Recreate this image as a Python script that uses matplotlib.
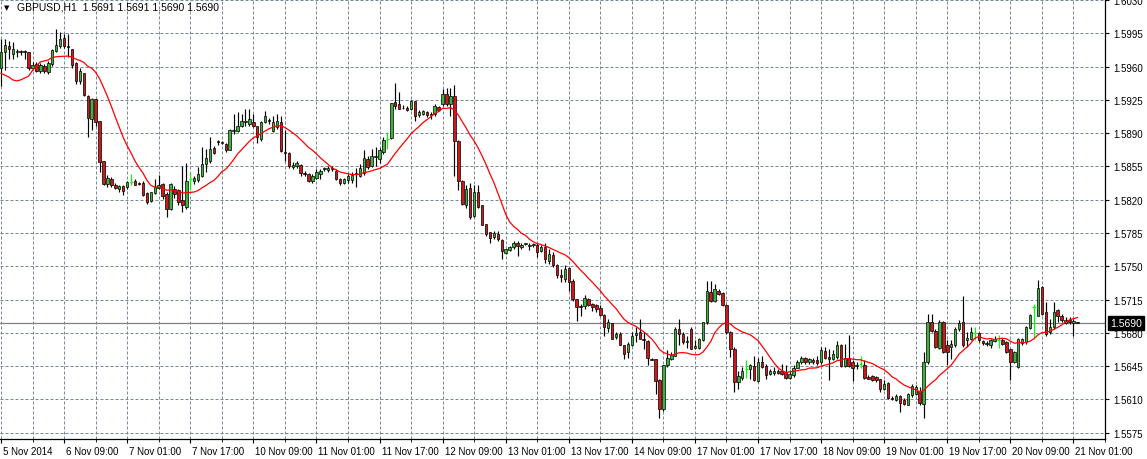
import numpy as np
import pandas as pd
import matplotlib
matplotlib.use("Agg")
import matplotlib.pyplot as plt
import matplotlib.transforms as mtransforms

plt.rcParams['font.family'] = ['Liberation Sans', 'DejaVu Sans']

symbol = "GBPUSD,H1"

# hourly OHLC, 5 Nov 2014 17:00 -> 21 Nov 2014 02:00 (274 bars)
opens = [
    1.5959, 1.5975, 1.5982, 1.5973, 1.5975, 1.5976, 1.5976, 1.5975, 1.5959, 1.5963,
    1.5955, 1.5961, 1.5954, 1.5963, 1.5976, 1.5982, 1.5990, 1.5982, 1.5979, 1.5964,
    1.5945, 1.5953, 1.5929, 1.5905, 1.5926, 1.5903, 1.5861, 1.5837, 1.5842, 1.5836,
    1.5831, 1.5834, 1.5833, 1.5839, 1.5840, 1.5838, 1.5838, 1.5827, 1.5819, 1.5827,
    1.5832, 1.5837, 1.5826, 1.5810, 1.5831, 1.5830, 1.5820, 1.5812, 1.5842, 1.5840,
    1.5841, 1.5845, 1.5858, 1.5861, 1.5874, 1.5882, 1.5880, 1.5879, 1.5872, 1.5892,
    1.5892, 1.5898, 1.5902, 1.5900, 1.5902, 1.5898, 1.5884, 1.5902, 1.5904, 1.5892,
    1.5896, 1.5902, 1.5870, 1.5869, 1.5854, 1.5855, 1.5857, 1.5848, 1.5847, 1.5840,
    1.5843, 1.5847, 1.5852, 1.5851, 1.5853, 1.5850, 1.5842, 1.5838, 1.5841, 1.5841,
    1.5847, 1.5845, 1.5848, 1.5863, 1.5855, 1.5865, 1.5863, 1.5870, 1.5884, 1.5885,
    1.5923, 1.5921, 1.5917, 1.5917, 1.5915, 1.5924, 1.5909, 1.5910, 1.5912, 1.5909,
    1.5910, 1.5918, 1.5921, 1.5931, 1.5921, 1.5929, 1.5882, 1.5840, 1.5814, 1.5832,
    1.5803, 1.5828, 1.5814, 1.5795, 1.5786, 1.5781, 1.5784, 1.5778, 1.5764, 1.5767,
    1.5770, 1.5775, 1.5770, 1.5773, 1.5771, 1.5772, 1.5772, 1.5766, 1.5770, 1.5756,
    1.5762, 1.5751, 1.5741, 1.5737, 1.5748, 1.5735, 1.5716, 1.5708, 1.5708, 1.5716,
    1.5710, 1.5709, 1.5706, 1.5699, 1.5685, 1.5690, 1.5676, 1.5679, 1.5667, 1.5660,
    1.5667, 1.5678, 1.5681, 1.5674, 1.5671, 1.5653, 1.5653, 1.5630, 1.5600, 1.5646,
    1.5653, 1.5656, 1.5684, 1.5679, 1.5670, 1.5684, 1.5664, 1.5664, 1.5672, 1.5691,
    1.5723, 1.5714, 1.5724, 1.5722, 1.5709, 1.5681, 1.5663, 1.5628, 1.5633, 1.5642,
    1.5642, 1.5645, 1.5629, 1.5649, 1.5645, 1.5637, 1.5638, 1.5640, 1.5640, 1.5639,
    1.5633, 1.5636, 1.5643, 1.5649, 1.5654, 1.5649, 1.5652, 1.5651, 1.5649, 1.5661,
    1.5655, 1.5653, 1.5655, 1.5667, 1.5645, 1.5654, 1.5649, 1.5645, 1.5647, 1.5646,
    1.5634, 1.5635, 1.5634, 1.5631, 1.5621, 1.5627, 1.5612, 1.5609, 1.5614, 1.5609,
    1.5604, 1.5615, 1.5616, 1.5619, 1.5605, 1.5649, 1.5691, 1.5682, 1.5664, 1.5691,
    1.5667, 1.5665, 1.5667, 1.5684, 1.5691, 1.5673, 1.5674, 1.5680, 1.5680, 1.5671,
    1.5669, 1.5667, 1.5671, 1.5673, 1.5672, 1.5670, 1.5663, 1.5649, 1.5644, 1.5669,
    1.5670, 1.5685, 1.5707, 1.5698, 1.5728, 1.5702, 1.5681, 1.5686, 1.5704, 1.5698,
    1.5690, 1.5694, 1.5690, 1.5691,
]
highs = [
    1.5989, 1.5989, 1.5987, 1.5986, 1.5979, 1.5977, 1.5977, 1.5975, 1.5965, 1.5965,
    1.5964, 1.5963, 1.5966, 1.5979, 1.6000, 1.5996, 1.5994, 1.5994, 1.5979, 1.5965,
    1.5959, 1.5953, 1.5930, 1.5927, 1.5926, 1.5903, 1.5861, 1.5846, 1.5844, 1.5838,
    1.5836, 1.5836, 1.5840, 1.5847, 1.5842, 1.5839, 1.5840, 1.5828, 1.5828, 1.5842,
    1.5846, 1.5838, 1.5828, 1.5838, 1.5834, 1.5831, 1.5855, 1.5859, 1.5849, 1.5845,
    1.5854, 1.5875, 1.5873, 1.5886, 1.5877, 1.5883, 1.5882, 1.5880, 1.5894, 1.5910,
    1.5912, 1.5910, 1.5915, 1.5915, 1.5910, 1.5898, 1.5903, 1.5913, 1.5906, 1.5908,
    1.5910, 1.5908, 1.5893, 1.5870, 1.5860, 1.5861, 1.5858, 1.5850, 1.5848, 1.5847,
    1.5852, 1.5852, 1.5854, 1.5855, 1.5856, 1.5852, 1.5843, 1.5843, 1.5847, 1.5849,
    1.5853, 1.5858, 1.5872, 1.5866, 1.5873, 1.5875, 1.5874, 1.5886, 1.5891, 1.5922,
    1.5943, 1.5933, 1.5920, 1.5919, 1.5925, 1.5924, 1.5914, 1.5914, 1.5913, 1.5912,
    1.5921, 1.5919, 1.5936, 1.5938, 1.5938, 1.5941, 1.5883, 1.5841, 1.5836, 1.5838,
    1.5836, 1.5835, 1.5814, 1.5795, 1.5786, 1.5787, 1.5787, 1.5779, 1.5768, 1.5771,
    1.5777, 1.5777, 1.5775, 1.5775, 1.5774, 1.5774, 1.5775, 1.5772, 1.5775, 1.5768,
    1.5765, 1.5752, 1.5747, 1.5751, 1.5749, 1.5737, 1.5716, 1.5710, 1.5720, 1.5717,
    1.5711, 1.5710, 1.5709, 1.5700, 1.5695, 1.5690, 1.5681, 1.5681, 1.5667, 1.5670,
    1.5681, 1.5686, 1.5695, 1.5681, 1.5672, 1.5654, 1.5653, 1.5631, 1.5646, 1.5662,
    1.5660, 1.5686, 1.5695, 1.5681, 1.5677, 1.5686, 1.5672, 1.5675, 1.5691, 1.5735,
    1.5735, 1.5731, 1.5726, 1.5723, 1.5710, 1.5682, 1.5665, 1.5640, 1.5644, 1.5651,
    1.5647, 1.5656, 1.5654, 1.5656, 1.5647, 1.5642, 1.5644, 1.5642, 1.5647, 1.5646,
    1.5641, 1.5646, 1.5651, 1.5656, 1.5655, 1.5654, 1.5654, 1.5656, 1.5665, 1.5665,
    1.5663, 1.5662, 1.5671, 1.5668, 1.5668, 1.5678, 1.5651, 1.5649, 1.5656, 1.5651,
    1.5636, 1.5636, 1.5635, 1.5632, 1.5630, 1.5628, 1.5614, 1.5616, 1.5615, 1.5611,
    1.5617, 1.5626, 1.5625, 1.5623, 1.5660, 1.5700, 1.5700, 1.5684, 1.5694, 1.5693,
    1.5672, 1.5673, 1.5686, 1.5694, 1.5719, 1.5681, 1.5686, 1.5686, 1.5681, 1.5672,
    1.5671, 1.5674, 1.5677, 1.5678, 1.5675, 1.5671, 1.5663, 1.5661, 1.5675, 1.5675,
    1.5687, 1.5700, 1.5710, 1.5736, 1.5729, 1.5712, 1.5695, 1.5712, 1.5705, 1.5700,
    1.5697, 1.5697, 1.5695, 1.5691,
]
lows = [
    1.5940, 1.5956, 1.5968, 1.5968, 1.5970, 1.5972, 1.5968, 1.5956, 1.5956, 1.5954,
    1.5953, 1.5953, 1.5952, 1.5961, 1.5975, 1.5980, 1.5980, 1.5970, 1.5959, 1.5942,
    1.5942, 1.5929, 1.5886, 1.5893, 1.5898, 1.5849, 1.5836, 1.5833, 1.5833, 1.5831,
    1.5828, 1.5825, 1.5831, 1.5836, 1.5835, 1.5836, 1.5824, 1.5816, 1.5818, 1.5826,
    1.5831, 1.5821, 1.5802, 1.5809, 1.5822, 1.5814, 1.5807, 1.5810, 1.5830, 1.5837,
    1.5839, 1.5844, 1.5849, 1.5859, 1.5868, 1.5878, 1.5879, 1.5870, 1.5872, 1.5889,
    1.5891, 1.5896, 1.5898, 1.5898, 1.5896, 1.5880, 1.5882, 1.5901, 1.5900, 1.5891,
    1.5894, 1.5870, 1.5861, 1.5853, 1.5852, 1.5853, 1.5845, 1.5845, 1.5839, 1.5838,
    1.5842, 1.5842, 1.5850, 1.5849, 1.5850, 1.5841, 1.5836, 1.5837, 1.5838, 1.5838,
    1.5833, 1.5844, 1.5846, 1.5852, 1.5854, 1.5856, 1.5859, 1.5868, 1.5873, 1.5884,
    1.5915, 1.5915, 1.5915, 1.5913, 1.5914, 1.5903, 1.5907, 1.5909, 1.5907, 1.5905,
    1.5908, 1.5913, 1.5919, 1.5919, 1.5908, 1.5845, 1.5830, 1.5814, 1.5811, 1.5800,
    1.5802, 1.5811, 1.5793, 1.5782, 1.5775, 1.5779, 1.5777, 1.5758, 1.5763, 1.5766,
    1.5768, 1.5761, 1.5768, 1.5772, 1.5767, 1.5770, 1.5760, 1.5765, 1.5753, 1.5752,
    1.5749, 1.5738, 1.5733, 1.5733, 1.5724, 1.5714, 1.5693, 1.5698, 1.5705, 1.5708,
    1.5703, 1.5702, 1.5698, 1.5677, 1.5681, 1.5674, 1.5674, 1.5667, 1.5653, 1.5654,
    1.5666, 1.5670, 1.5674, 1.5663, 1.5646, 1.5651, 1.5616, 1.5590, 1.5598, 1.5644,
    1.5651, 1.5656, 1.5667, 1.5668, 1.5664, 1.5663, 1.5663, 1.5663, 1.5671, 1.5689,
    1.5712, 1.5712, 1.5720, 1.5708, 1.5679, 1.5655, 1.5618, 1.5621, 1.5630, 1.5633,
    1.5632, 1.5629, 1.5628, 1.5643, 1.5632, 1.5636, 1.5636, 1.5637, 1.5636, 1.5632,
    1.5632, 1.5634, 1.5643, 1.5647, 1.5647, 1.5647, 1.5647, 1.5646, 1.5647, 1.5653,
    1.5630, 1.5651, 1.5653, 1.5644, 1.5644, 1.5644, 1.5629, 1.5642, 1.5643, 1.5632,
    1.5631, 1.5629, 1.5628, 1.5618, 1.5620, 1.5610, 1.5609, 1.5608, 1.5597, 1.5604,
    1.5604, 1.5613, 1.5615, 1.5604, 1.5590, 1.5647, 1.5681, 1.5664, 1.5663, 1.5659,
    1.5646, 1.5653, 1.5665, 1.5682, 1.5665, 1.5665, 1.5672, 1.5672, 1.5670, 1.5667,
    1.5666, 1.5664, 1.5670, 1.5664, 1.5667, 1.5659, 1.5630, 1.5648, 1.5643, 1.5667,
    1.5668, 1.5684, 1.5675, 1.5698, 1.5699, 1.5677, 1.5679, 1.5684, 1.5691, 1.5691,
    1.5689, 1.5689, 1.5677, 1.5690,
]
closes = [
    1.5975, 1.5983, 1.5979, 1.5979, 1.5976, 1.5975, 1.5975, 1.5959, 1.5962, 1.5955,
    1.5962, 1.5955, 1.5964, 1.5977, 1.5983, 1.5989, 1.5982, 1.5981, 1.5962, 1.5945,
    1.5955, 1.5930, 1.5906, 1.5926, 1.5902, 1.5860, 1.5837, 1.5843, 1.5836, 1.5832,
    1.5834, 1.5829, 1.5839, 1.5839, 1.5836, 1.5837, 1.5825, 1.5818, 1.5828, 1.5833,
    1.5836, 1.5824, 1.5810, 1.5837, 1.5826, 1.5818, 1.5814, 1.5840, 1.5842, 1.5843,
    1.5847, 1.5858, 1.5864, 1.5873, 1.5869, 1.5881, 1.5881, 1.5872, 1.5893, 1.5893,
    1.5898, 1.5903, 1.5903, 1.5905, 1.5898, 1.5886, 1.5902, 1.5908, 1.5903, 1.5902,
    1.5903, 1.5871, 1.5869, 1.5855, 1.5857, 1.5859, 1.5848, 1.5847, 1.5840, 1.5845,
    1.5849, 1.5850, 1.5853, 1.5853, 1.5852, 1.5842, 1.5838, 1.5842, 1.5845, 1.5846,
    1.5848, 1.5853, 1.5864, 1.5854, 1.5866, 1.5866, 1.5872, 1.5883, 1.5884, 1.5922,
    1.5919, 1.5915, 1.5916, 1.5914, 1.5924, 1.5908, 1.5912, 1.5913, 1.5909, 1.5910,
    1.5919, 1.5914, 1.5931, 1.5921, 1.5929, 1.5882, 1.5840, 1.5816, 1.5831, 1.5802,
    1.5828, 1.5812, 1.5793, 1.5784, 1.5780, 1.5785, 1.5779, 1.5766, 1.5768, 1.5770,
    1.5775, 1.5771, 1.5772, 1.5774, 1.5772, 1.5773, 1.5765, 1.5770, 1.5758, 1.5763,
    1.5751, 1.5741, 1.5739, 1.5747, 1.5733, 1.5716, 1.5707, 1.5707, 1.5717, 1.5709,
    1.5707, 1.5705, 1.5699, 1.5686, 1.5691, 1.5674, 1.5679, 1.5667, 1.5658, 1.5668,
    1.5677, 1.5680, 1.5674, 1.5673, 1.5654, 1.5652, 1.5629, 1.5600, 1.5646, 1.5654,
    1.5657, 1.5684, 1.5679, 1.5670, 1.5671, 1.5663, 1.5666, 1.5674, 1.5691, 1.5724,
    1.5713, 1.5726, 1.5721, 1.5709, 1.5681, 1.5663, 1.5628, 1.5635, 1.5640, 1.5642,
    1.5646, 1.5630, 1.5649, 1.5644, 1.5636, 1.5640, 1.5640, 1.5638, 1.5637, 1.5633,
    1.5637, 1.5643, 1.5649, 1.5654, 1.5649, 1.5653, 1.5649, 1.5648, 1.5662, 1.5654,
    1.5653, 1.5658, 1.5667, 1.5645, 1.5654, 1.5645, 1.5643, 1.5646, 1.5647, 1.5633,
    1.5632, 1.5630, 1.5630, 1.5621, 1.5626, 1.5611, 1.5610, 1.5614, 1.5606, 1.5605,
    1.5616, 1.5624, 1.5623, 1.5606, 1.5649, 1.5691, 1.5682, 1.5665, 1.5691, 1.5660,
    1.5660, 1.5668, 1.5684, 1.5690, 1.5667, 1.5675, 1.5681, 1.5680, 1.5672, 1.5669,
    1.5668, 1.5672, 1.5674, 1.5673, 1.5668, 1.5660, 1.5649, 1.5660, 1.5674, 1.5674,
    1.5686, 1.5699, 1.5707, 1.5727, 1.5700, 1.5679, 1.5686, 1.5702, 1.5698, 1.5694,
    1.5694, 1.5691, 1.5692, 1.5690,
]

# moving average values visible at the left edge (warm-up bars lie off screen)
ma_head = [1.5953, 1.5951, 1.5949, 1.5946, 1.5945, 1.5946, 1.5948,
           1.5950, 1.5956, 1.5961, 1.5965, 1.5966, 1.5967]
ma_period = 14

time_labels = ["5 Nov 2014", "6 Nov 09:00", "7 Nov 01:00", "7 Nov 17:00",
               "10 Nov 09:00", "11 Nov 01:00", "11 Nov 17:00", "12 Nov 09:00",
               "13 Nov 01:00", "13 Nov 17:00", "14 Nov 09:00", "17 Nov 01:00",
               "17 Nov 17:00", "18 Nov 09:00", "19 Nov 01:00", "19 Nov 17:00",
               "20 Nov 09:00", "21 Nov 01:00"]
bars_per_label = 16
price_ticks = [1.5575, 1.5610, 1.5645, 1.5680, 1.5715, 1.5750, 1.5785,
               1.5820, 1.5855, 1.5890, 1.5925, 1.5960, 1.5995, 1.6030]
last_price = 1.5690

bull_color = '#3CB43C'
bear_color = '#D01818'
doji_color = '#00FF00'
grid_color = '#778899'

n = min(len(opens), len(highs), len(lows), len(closes))
o = np.array(opens[:n])
h = np.array(highs[:n])
l = np.array(lows[:n])
c = np.array(closes[:n])
idx = np.arange(n)

ma = pd.Series(c).rolling(ma_period).mean().to_numpy()
ma[:len(ma_head)] = ma_head

W, H = 1147, 460
fig = plt.figure(figsize=(W / 100, H / 100), dpi=100)
fig.patch.set_facecolor('white')
ax = fig.add_axes([0, 20 / H, 1105 / W, 440 / H])
ax.set_facecolor('white')

ax.set_xlim(-0.25, 276)
ax.set_ylim(1.55684, 1.60311)

# grid
ax.set_yticks(price_ticks)
ax.set_yticklabels([f"{p:.4f}" for p in price_ticks])
label_pos = [i * bars_per_label for i in range(len(time_labels))]
ax.set_xticks(label_pos)
ax.set_xticklabels(time_labels)
ax.set_xticks([p + bars_per_label // 2 for p in label_pos], minor=True)
grid_style = dict(color=grid_color, lw=0.72, ls=(0, (3, 2)))
ax.grid(True, which='both', axis='x', **grid_style)
ax.grid(True, which='major', axis='y', **grid_style)
ax.set_axisbelow(True)

# bid line
ax.axhline(last_price, color='#808080', lw=0.9, zorder=1.5)

# candles
doji = np.isclose(o, c)
up = c > o
body_lo = np.minimum(o, c)
body_hi = np.maximum(o, c)
wick_hi = np.maximum(h, body_hi)
wick_lo = np.minimum(l, body_lo)

normal = ~doji
ax.vlines(idx[normal], wick_lo[normal], wick_hi[normal], color='black', lw=0.85, zorder=2)
colors = np.where(up, bull_color, bear_color)
ax.bar(idx[normal], (body_hi - body_lo)[normal], bottom=body_lo[normal], width=0.62,
       color=colors[normal], edgecolor='black', linewidth=0.5, zorder=3)
ax.vlines(idx[doji], wick_lo[doji], wick_hi[doji], color=doji_color, lw=0.85, zorder=3)
ax.hlines(c[doji], idx[doji] - 0.4, idx[doji] + 0.4, color=doji_color, lw=0.85, zorder=3)

# moving average
ax.plot(idx, ma, color='red', lw=0.9, zorder=4)

# axes styling
for side in ['left', 'top']:
    ax.spines[side].set_visible(False)
for side in ['right', 'bottom']:
    ax.spines[side].set_color('black')
    ax.spines[side].set_linewidth(0.9)

ax.yaxis.tick_right()
ax.tick_params(axis='y', which='major', length=3, width=0.8, pad=3,
               labelsize=7, colors='black')
ax.tick_params(axis='x', which='major', length=3, width=0.8, pad=2, labelsize=7)
ax.tick_params(axis='x', which='minor', length=2, width=0.6)
shift = mtransforms.ScaledTranslation(2 / 100, 0, fig.dpi_scale_trans)
for lab in ax.get_xticklabels():
    lab.set_horizontalalignment('left')
    lab.set_transform(lab.get_transform() + shift)

# current price marker on the price scale
ax.annotate(f"{last_price:.4f}", xy=(1, last_price), xycoords=('axes fraction', 'data'),
            xytext=(5, 0), textcoords='offset pixels', ha='left', va='center',
            fontsize=7.5, color='white', annotation_clip=False, zorder=10,
            bbox=dict(boxstyle='square,pad=0.18', fc='black', ec='black'))

# chart header
fig.text(4 / W, 1 - 8 / H, "\u25bc", fontsize=5, va='center', ha='left',
         family=['DejaVu Sans'])
fig.text(17 / W, 1 - 8 / H,
         f"{symbol}  {o[-1]:.4f} {h[-1]:.4f} {l[-1]:.4f} {c[-1]:.4f}",
         fontsize=7.5, va='center', ha='left')

fig.savefig('out.png', dpi=100)
